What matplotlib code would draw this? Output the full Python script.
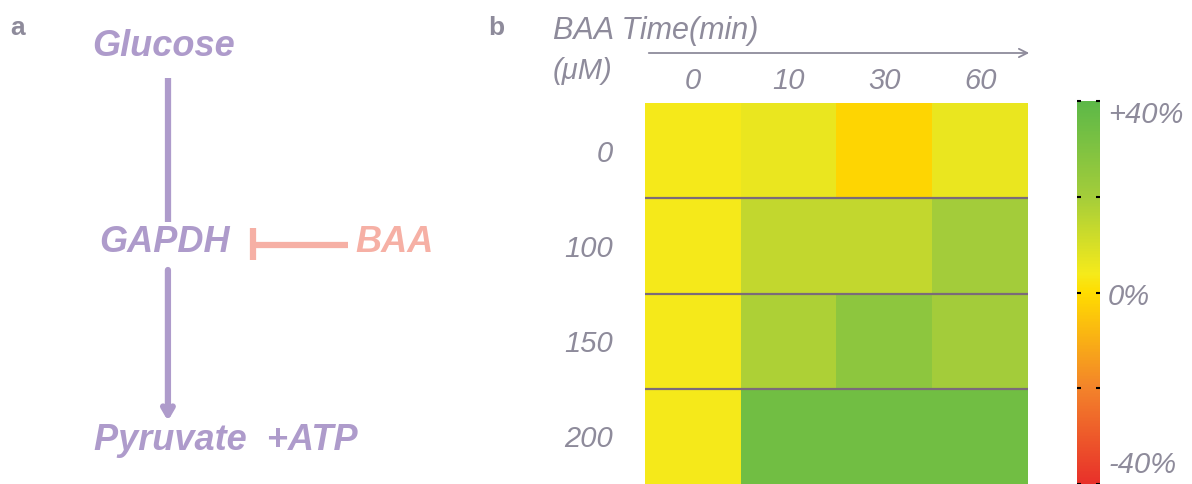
import numpy as np
import matplotlib
matplotlib.use('Agg')
import matplotlib.pyplot as plt
from matplotlib.colors import LinearSegmentedColormap

plt.rcParams['font.family'] = ['Liberation Sans', 'DejaVu Sans']

# heatmap data (% change), rows = BAA dose, cols = time
doses = ['0', '100', '150', '200']
times = ['0', '10', '30', '60']
row_0 = [4, 6, -1.5, 6]
row_100 = [4, 14, 14, 20]
row_150 = [4, 18, 26, 20]
row_200 = [4, 34, 34, 34]
cbar_ticks = [-40, -20, 0, 20, 40]
cbar_labels = {40: '+40%', 0: '0%', -40: '-40%'}

gray = '#8e8b9b'
purple = '#ae9bcb'
salmon = '#f6b0a5'

cmap = LinearSegmentedColormap.from_list('rg', [
    (0.0, '#e8302a'), (0.25, '#f3832a'), (0.5, '#ffdc00'),
    (0.55, '#f5ea1b'), (0.75, '#a4cd3a'), (1.0, '#5cb848')])

fig = plt.figure(figsize=(11.92, 4.84), dpi=100)

# ---- panel a : pathway sketch
axa = fig.add_axes([0, 0, 0.40, 1])
axa.set_xlim(0, 477)
axa.set_ylim(484, 0)
axa.axis('off')
fig.text(10/1192, 1-28/484, 'a', color=gray, fontsize=19, fontweight='bold', va='center')
fig.text(488/1192, 1-28/484, 'b', color=gray, fontsize=19, fontweight='bold', va='center')

tkw = dict(color=purple, fontsize=26, fontweight='bold', style='italic', va='center', ha='center')
axa.text(164, 47, 'Glucose', **tkw)
axa.text(165, 243, 'GAPDH', **tkw)
axa.text(226, 440, 'Pyruvate  +ATP', **tkw)
axa.text(395, 243, 'BAA', color=salmon, fontsize=26, fontweight='bold', style='italic',
         va='center', ha='center')
axa.plot([168, 168], [78, 222], color=purple, lw=4.5, solid_capstyle='butt')
axa.annotate('', xy=(168, 421), xytext=(168, 270),
             arrowprops=dict(arrowstyle='->,head_length=0.6,head_width=0.35',
                             color=purple, lw=4.5, shrinkA=0, shrinkB=0))
axa.plot([253, 348], [245, 245], color=salmon, lw=4.5, solid_capstyle='butt')
axa.plot([253, 253], [228, 260], color=salmon, lw=4.5, solid_capstyle='butt')

# ---- panel b : heatmap
data = np.array([row_0, row_100, row_150, row_200])
axh = fig.add_axes([645/1192, 0, 383/1192, 381/484])
axh.imshow(data, cmap=cmap, vmin=-40, vmax=40, aspect='auto', interpolation='nearest')
for y in np.arange(0.5, len(doses) - 0.5, 1):
    axh.axhline(y, color='#7b6b79', lw=1.6)
axh.set_xticks(range(len(times)))
axh.set_xticklabels(times)
axh.set_yticks(range(len(doses)))
axh.set_yticklabels(doses)
axh.xaxis.tick_top()
axh.tick_params(length=0, labelsize=21, labelcolor=gray)
axh.tick_params(axis='x', pad=6)
axh.tick_params(axis='y', pad=23)
for lab in axh.get_xticklabels() + axh.get_yticklabels():
    lab.set_style('italic')
for s in axh.spines.values():
    s.set_visible(False)

fig.text(553/1192, 1-31/484, 'BAA Time(min)', color=gray, fontsize=22, style='italic', va='center')
fig.text(553/1192, 1-71/484, '(μM)', color=gray, fontsize=21, style='italic', va='center')
fig.add_artist(matplotlib.patches.FancyArrowPatch(
    (646/1192, 1-53/484), (1032/1192, 1-53/484), transform=fig.transFigure,
    arrowstyle='->,head_length=6,head_width=3', color=gray, lw=1.3))

# ---- colorbar
cax = fig.add_axes([1077/1192, 0, 23/1192, 383/484])
sm = plt.cm.ScalarMappable(cmap=cmap, norm=plt.Normalize(-40, 40))
cb = fig.colorbar(sm, cax=cax, ticks=cbar_ticks)
cb.outline.set_visible(False)
cb.ax.set_yticklabels([])
cb.ax.tick_params(direction='in', left=True, right=True, length=3, width=1.5, color='black')
label_shift = {40: -3, 0: -1, -40: 4}
for v, txt in cbar_labels.items():
    cb.ax.text(1.35, v + label_shift[v], txt, color=gray, fontsize=21, style='italic',
               va='center', ha='left', transform=cb.ax.get_yaxis_transform())

fig.savefig('out.png', dpi=100)
